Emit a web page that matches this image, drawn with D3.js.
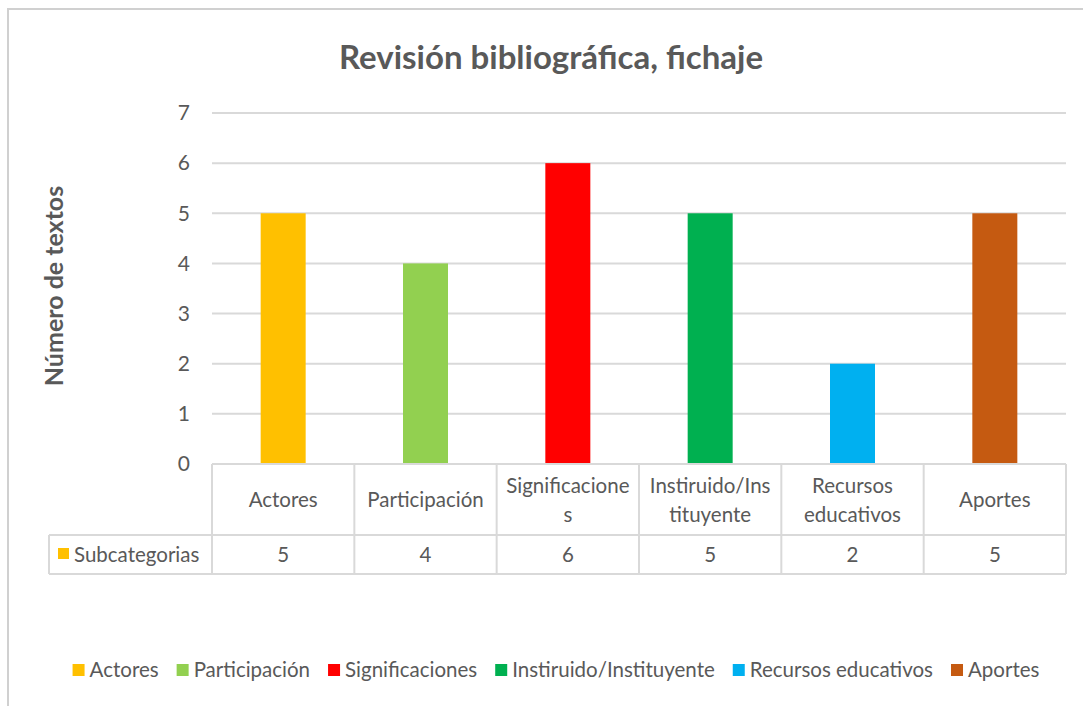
<!DOCTYPE html>
<html>
<head>
<meta charset="utf-8">
<script src="https://cdn.jsdelivr.net/npm/d3@7"></script>
<style>
  body { margin: 0; background: #fff; }
  text { font-family: Lato, "Open Sans", sans-serif; fill: #595959; }
</style>
</head>
<body>
<svg id="chart" width="1083" height="706"></svg>
<script>
// data
const categories = ['Actores', 'Participación', 'Significaciones', 'Instiruido/Instituyente', 'Recursos educativos', 'Aportes'];
const tableLabels = [['Actores'], ['Participación'], ['Significacione', 's'], ['Instiruido/Ins', 'tituyente'], ['Recursos', 'educativos'], ['Aportes']];
const values = [5, 4, 6, 5, 2, 5];
const colors = ['#FFC000', '#92D050', '#FF0000', '#00B050', '#00B0F0', '#C55A11'];
const seriesName = 'Subcategorias';
const yTicks = [0, 1, 2, 3, 4, 5, 6, 7];

const svg = d3.select('#chart');
const gridColor = '#d9d9d9';
const fs = '20.5px';

// outer frame
svg.append('line').attr('x1', 7).attr('x2', 1083).attr('y1', 9).attr('y2', 9)
  .attr('stroke', '#d0d0d0').attr('stroke-width', 2);
svg.append('line').attr('x1', 8).attr('x2', 8).attr('y1', 9).attr('y2', 706)
  .attr('stroke', '#d0d0d0').attr('stroke-width', 2);

// title
svg.append('text')
  .attr('x', 551).attr('y', 69)
  .attr('text-anchor', 'middle')
  .style('font-size', '33px').style('font-weight', 'bold')
  .text('Revisión bibliográfica, fichaje');

const x = d3.scaleBand().domain(categories).range([212, 1066]).paddingInner(0).paddingOuter(0);
const y = d3.scaleLinear().domain([0, 7]).range([464, 113]);

// gridlines
svg.append('g')
  .selectAll('line')
  .data(yTicks.filter(d => d > 0))
  .enter().append('line')
  .attr('x1', 212).attr('x2', 1066)
  .attr('y1', d => y(d)).attr('y2', d => y(d))
  .attr('stroke', gridColor).attr('stroke-width', 2);

// y axis labels
const yAxis = d3.axisLeft(y).tickValues(yTicks).tickFormat(d3.format('d')).tickSize(0).tickPadding(0);
const yg = svg.append('g').attr('transform', 'translate(190,0)').call(yAxis);
yg.select('.domain').remove();
yg.selectAll('text').style('font-size', '21px').style('font-family', 'Lato, sans-serif').attr('fill', '#595959');

// y axis title
svg.append('text')
  .attr('transform', 'translate(63,286) rotate(-90)')
  .attr('text-anchor', 'middle')
  .style('font-size', '25px').style('font-weight', 'bold')
  .text('Número de textos');

// bars
const barW = 45;
svg.append('g')
  .selectAll('rect')
  .data(values)
  .enter().append('rect')
  .attr('x', (d, i) => x(categories[i]) + x.bandwidth() / 2 - barW / 2)
  .attr('y', d => y(d))
  .attr('width', barW)
  .attr('height', d => y(0) - y(d))
  .attr('fill', (d, i) => colors[i]);

// data table
const tTop = 464, tMid = 535, tBot = 574, tLeft = 49;
const tbl = svg.append('g').attr('stroke', gridColor).attr('stroke-width', 2);
tbl.append('line').attr('x1', 212).attr('x2', 1066).attr('y1', tTop).attr('y2', tTop);
tbl.append('line').attr('x1', tLeft).attr('x2', 1066).attr('y1', tMid).attr('y2', tMid);
tbl.append('line').attr('x1', tLeft).attr('x2', 1066).attr('y1', tBot).attr('y2', tBot);
tbl.append('line').attr('x1', tLeft).attr('x2', tLeft).attr('y1', tMid).attr('y2', tBot);
tbl.selectAll('.vline')
  .data(categories.map(c => x(c)).concat([x.range()[1]]))
  .enter().append('line')
  .attr('x1', d => d).attr('x2', d => d)
  .attr('y1', tTop).attr('y2', tBot);

const headerG = svg.append('g');
tableLabels.forEach((lines, i) => {
  const cx = x(categories[i]) + x.bandwidth() / 2;
  const t = headerG.append('text')
    .attr('text-anchor', 'middle')
    .style('font-size', fs);
  const startY = lines.length === 1 ? 507 : 493;
  lines.forEach((ln, j) => {
    t.append('tspan').attr('x', cx).attr('y', startY + j * 29).text(ln);
  });
});

svg.append('g')
  .selectAll('text')
  .data(values)
  .enter().append('text')
  .attr('x', (d, i) => x(categories[i]) + x.bandwidth() / 2)
  .attr('y', 562)
  .attr('text-anchor', 'middle')
  .style('font-size', fs)
  .text(d => d);

svg.append('rect').attr('x', 58).attr('y', 548).attr('width', 11).attr('height', 11).attr('fill', colors[0]);
svg.append('text').attr('x', 74).attr('y', 562).style('font-size', fs).text(seriesName);

// legend
const legend = svg.append('g');
let lx = 0;
categories.forEach((c, i) => {
  const item = legend.append('g').attr('transform', `translate(${lx},0)`);
  item.append('rect').attr('x', 0).attr('y', -13).attr('width', 12).attr('height', 12).attr('fill', colors[i]);
  const t = item.append('text').attr('x', 17).attr('y', 0).style('font-size', fs).text(c);
  lx += 17 + t.node().getComputedTextLength() + 18;
});
const legendW = lx - 18;
legend.attr('transform', `translate(${556 - legendW / 2},677)`);
</script>
</body>
</html>
